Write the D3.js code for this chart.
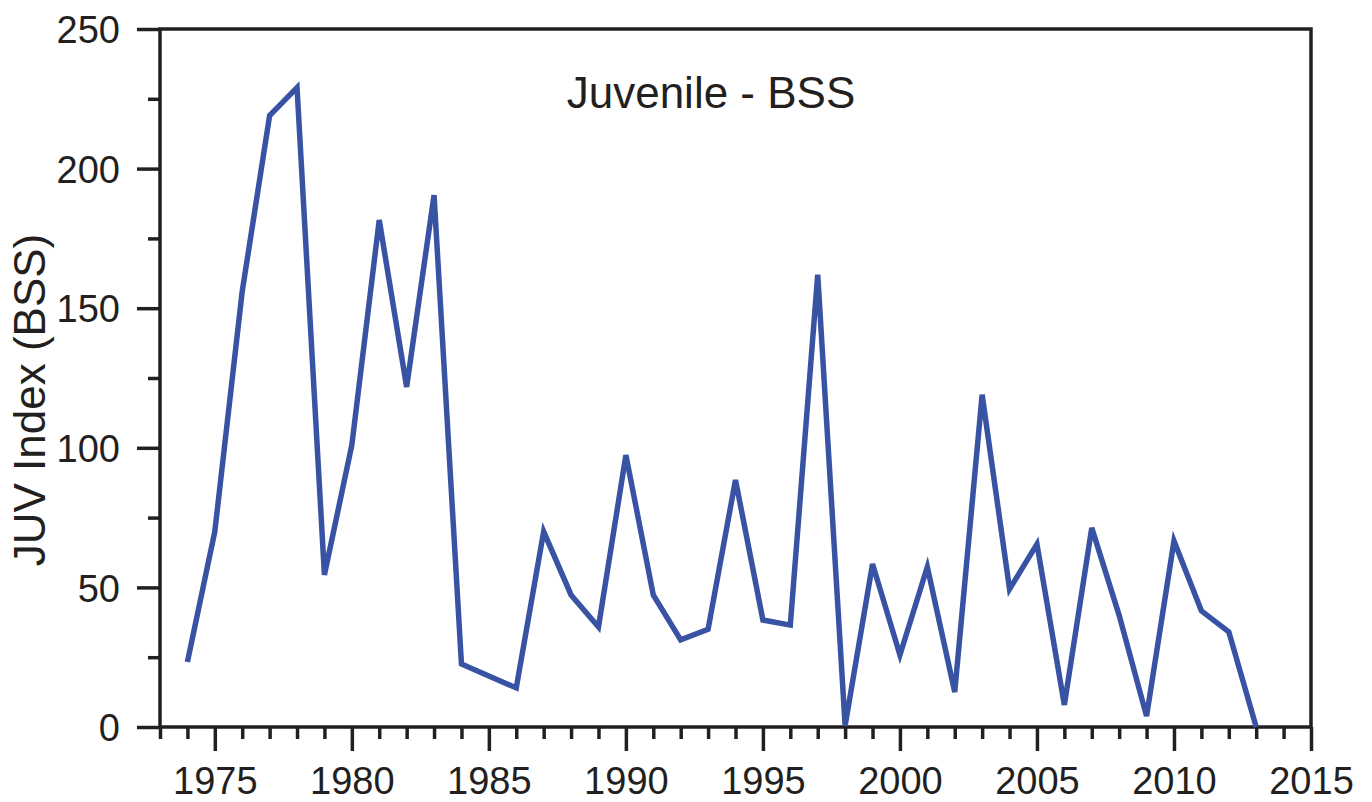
<!DOCTYPE html>
<html><head><meta charset="utf-8">
<script src="https://cdn.jsdelivr.net/npm/d3@7"></script>
<style>body{margin:0;background:#fff}svg{display:block}text{font-family:"Liberation Sans",Arial,sans-serif;fill:#231f20}</style>
</head><body>
<svg id="c" width="1372" height="802"></svg>
<script>
const years = d3.range(1974, 2014);
const values = [23.3,70,156,219,229,54.5,101,181.6,121.8,190.5,22.6,18.3,14,70,47.3,35.8,97.4,47.3,31.2,35,88.5,38.3,36.5,162,0.5,58.4,25.8,57.3,12.5,119,49.4,65.5,7.9,71.3,40,3.9,66.6,41.6,34.1,0];
const yTicks = [0,50,100,150,200,250];
const xTicks = [1975,1980,1985,1990,1995,2000,2005,2010,2015];
const title = "Juvenile - BSS";
const yLabel = "JUV Index (BSS)";

const svg = d3.select("#c");
const L=160,R=1311,T=29,B=727;
const x = d3.scaleLinear().domain([1973,2015]).range([L,R]);
const y = d3.scaleLinear().domain([0,250]).range([B,T]);
const ink="#231f20";

// frame
svg.append("rect").attr("x",L).attr("y",T).attr("width",R-L).attr("height",B-T)
  .attr("fill","none").attr("stroke",ink).attr("stroke-width",3.5);

// y axis
const yAx = svg.append("g").attr("transform",`translate(${L},0)`)
  .call(d3.axisLeft(y).tickValues(yTicks).tickSize(23).tickPadding(17).tickFormat(d3.format("d")));
yAx.select(".domain").remove();
yAx.selectAll("line").attr("stroke",ink).attr("stroke-width",3.5);
yAx.selectAll("text").style("font-size","38px").attr("dy","0.36em");
const yMinor = svg.append("g").attr("transform",`translate(${L},0)`)
  .call(d3.axisLeft(y).tickValues(d3.range(25,250,50)).tickSize(12).tickFormat(""));
yMinor.select(".domain").remove();
yMinor.selectAll("line").attr("stroke",ink).attr("stroke-width",3.5);

// x axis
const xAx = svg.append("g").attr("transform",`translate(0,${B})`)
  .call(d3.axisBottom(x).tickValues(xTicks).tickSize(24).tickPadding(16).tickFormat(d3.format("d")));
xAx.select(".domain").remove();
xAx.selectAll("line").attr("stroke",ink).attr("stroke-width",3.5);
xAx.selectAll("text").style("font-size","38px");
const xMinor = svg.append("g").attr("transform",`translate(0,${B})`)
  .call(d3.axisBottom(x).tickValues(d3.range(1973,2015).filter(v=>v%5!==0)).tickSize(12).tickFormat(""));
xMinor.select(".domain").remove();
xMinor.selectAll("line").attr("stroke",ink).attr("stroke-width",3.5);

// line
svg.append("path").datum(years.map((yr,i)=>[yr,values[i]]))
  .attr("fill","none").attr("stroke","#3953a4").attr("stroke-width",5.5).attr("stroke-linejoin","miter")
  .attr("d", d3.line().x(d=>x(d[0])).y(d=>y(d[1])));

svg.append("text").attr("x",711).attr("y",108).attr("text-anchor","middle").style("font-size","44px").text(title);
svg.append("text").attr("transform","translate(45,400) rotate(-90)").attr("text-anchor","middle").style("font-size","44px").text(yLabel);
</script>
</body></html>
